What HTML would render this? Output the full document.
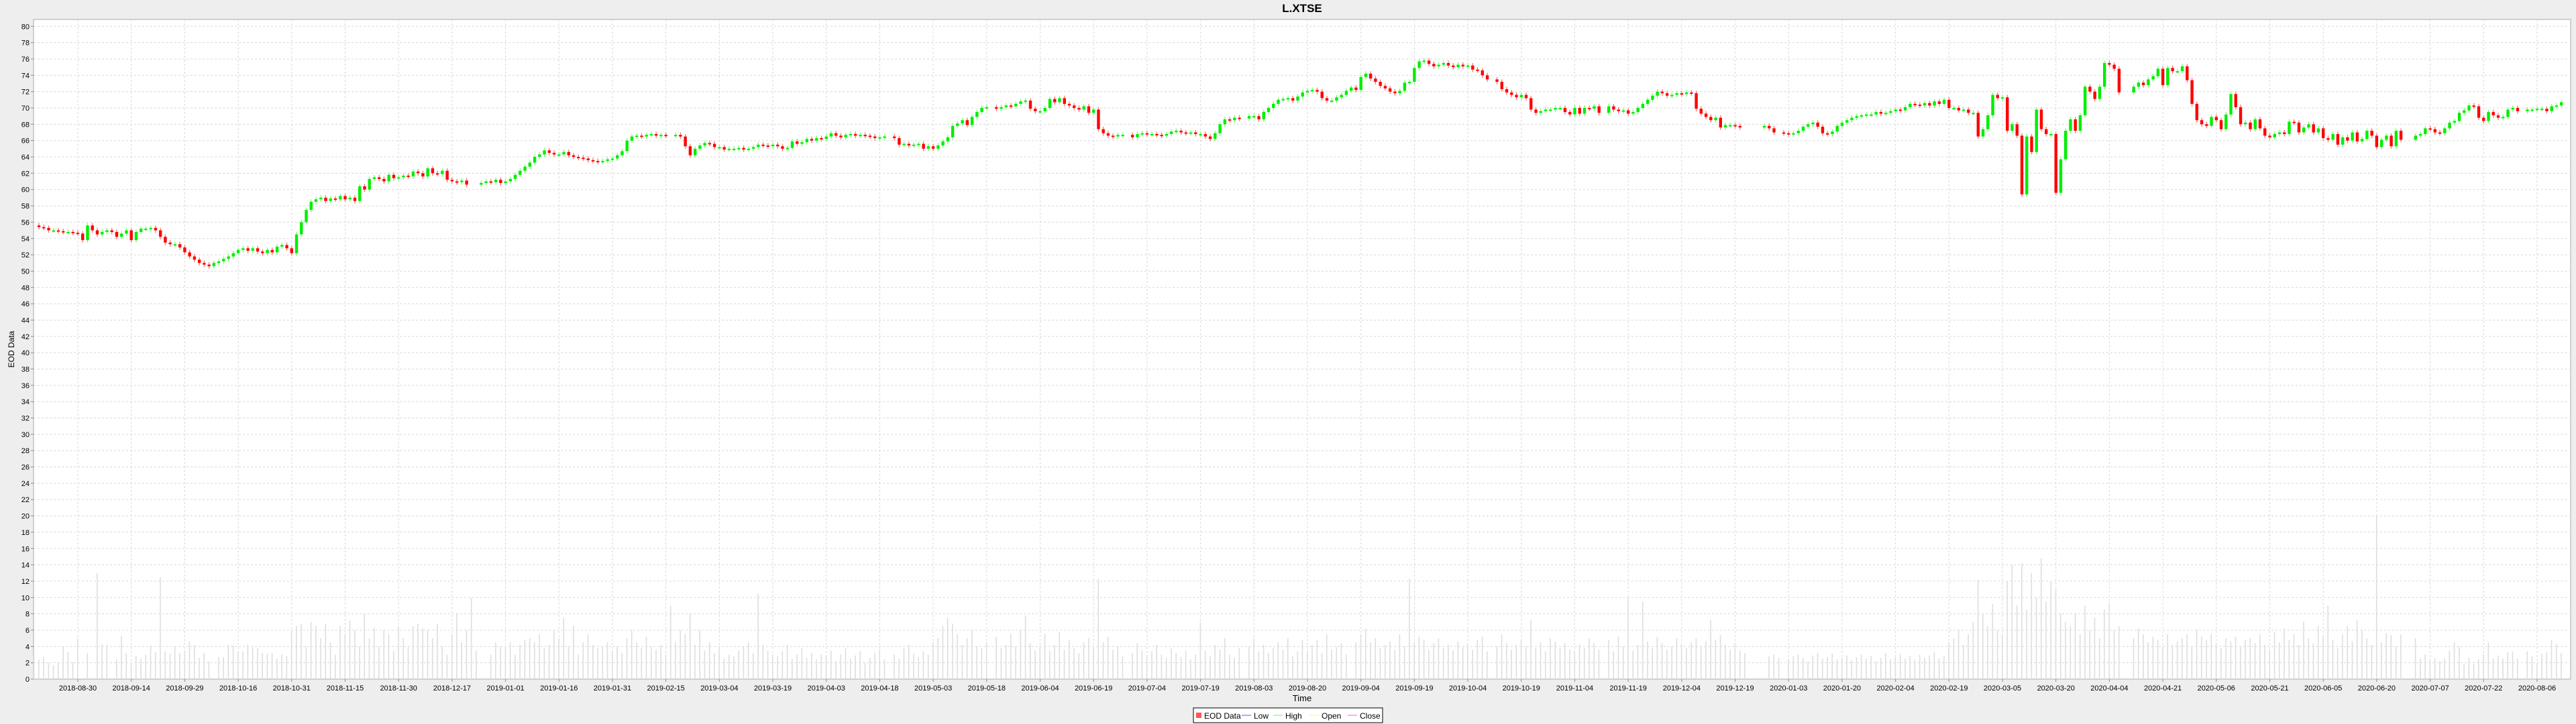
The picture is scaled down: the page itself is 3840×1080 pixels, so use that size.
<!DOCTYPE html>
<html><head><meta charset="utf-8"><title>L.XTSE</title>
<style>
html,body{margin:0;padding:0;background:#eeeeee;}
svg{display:block;font-family:"Liberation Sans",sans-serif;}
</style></head>
<body>
<svg id="chart" width="3840" height="1080" viewBox="0 0 3840 1080" xmlns="http://www.w3.org/2000/svg">
<rect x="0" y="0" width="3840" height="1080" fill="#eeeeee"/>
<text x="1941" y="18" text-anchor="middle" font-size="17" font-weight="bold" fill="#000">L.XTSE</text>
<rect x="50" y="29" width="3782" height="984" fill="#ffffff" stroke="#aaaaaa" stroke-width="1"/>
<g id="grid"></g>
<g id="volumes"></g>
<g id="candles"></g>
<g id="yaxis"></g>
<g id="xaxis"></g>
<text transform="translate(21,521) rotate(-90)" text-anchor="middle" font-size="12" fill="#000">EOD Data</text>
<text x="1941" y="1046" text-anchor="middle" font-size="13" fill="#000">Time</text>
<g>
<rect x="1779" y="1056" width="282" height="22" fill="#ffffff" stroke="#000" stroke-width="1"/>
<rect x="1783" y="1063" width="8" height="8" fill="#ff5555"/>
<text x="1795" y="1072" font-size="12" fill="#000">EOD Data</text>
<line x1="1851" y1="1067" x2="1865" y2="1067" stroke="#5555ff"/>
<text x="1869" y="1072" font-size="12" fill="#000">Low</text>
<line x1="1898" y1="1067" x2="1912" y2="1067" stroke="#55ff55"/>
<text x="1916" y="1072" font-size="12" fill="#000">High</text>
<line x1="1952" y1="1067" x2="1966" y2="1067" stroke="#ffff55"/>
<text x="1970" y="1072" font-size="12" fill="#000">Open</text>
<line x1="2009" y1="1067" x2="2023" y2="1067" stroke="#ff55ff"/>
<text x="2027" y="1072" font-size="12" fill="#000">Close</text>
</g>
</svg>
<script>
const tickLabels = ["2018-08-30","2018-09-14","2018-09-29","2018-10-16","2018-10-31","2018-11-15","2018-11-30","2018-12-17","2019-01-01","2019-01-16","2019-01-31","2019-02-15","2019-03-04","2019-03-19","2019-04-03","2019-04-18","2019-05-03","2019-05-18","2019-06-04","2019-06-19","2019-07-04","2019-07-19","2019-08-03","2019-08-20","2019-09-04","2019-09-19","2019-10-04","2019-10-19","2019-11-04","2019-11-19","2019-12-04","2019-12-19","2020-01-03","2020-01-20","2020-02-04","2020-02-19","2020-03-05","2020-03-20","2020-04-04","2020-04-21","2020-05-06","2020-05-21","2020-06-05","2020-06-20","2020-07-07","2020-07-22","2020-08-06"];
const tickDayIndex = [9,20,31,42,53,64,75,86,97,108,119,130,141,152,163,174,185,196,207,218,229,240,251,262,273,284,295,306,317,328,339,350,361,372,383,394,405,416,427,438,449,460,471,482,493,504,515];
const yTicks = [0,2,4,6,8,10,12,14,16,18,20,22,24,26,28,30,32,34,36,38,40,42,44,46,48,50,52,54,56,58,60,62,64,66,68,70,72,74,76,78,80];
const closes = [
55.6,55.4,55.3,55.0,55.0,54.9,54.8,54.8,54.7,
54.6,53.8,55.6,55.0,54.5,54.8,55.0,54.8,54.2,54.6,55.0,
53.8,54.8,55.2,55.2,55.3,55.0,54.2,53.5,53.3,53.3,52.9,
52.3,51.8,51.4,51.0,50.8,50.6,51.0,51.2,51.5,51.8,52.2,
52.6,52.8,52.5,52.8,52.4,52.2,52.6,52.3,53.0,53.2,52.8,
52.2,54.5,56.0,57.5,58.5,58.8,59.0,58.6,58.9,58.8,59.2,
58.8,59.0,58.6,60.4,60.0,61.3,61.5,61.3,61.0,61.8,61.4,
61.5,61.7,61.6,62.2,62.0,61.6,62.6,62.0,61.9,62.3,61.2,
61.0,60.9,61.1,60.6,null,null,60.8,61.0,60.9,61.2,60.8,
61.0,61.3,61.8,62.3,62.8,63.3,64.0,64.3,64.8,64.5,64.3,
64.3,64.6,64.2,64.0,63.9,63.8,63.6,63.5,63.4,63.5,63.7,
63.8,64.2,64.7,66.0,66.5,66.6,66.5,66.7,66.8,66.6,66.7,
66.6,null,66.7,66.5,65.3,64.2,65.0,65.4,65.7,65.6,65.2,
65.2,64.9,65.0,65.0,65.1,64.9,65.0,65.2,65.5,65.4,65.3,
65.5,65.3,65.0,65.1,65.9,65.6,65.8,66.2,66.0,66.3,66.2,
66.5,66.9,66.6,66.4,66.7,66.8,66.6,66.7,66.6,66.5,66.3,
66.4,66.5,null,66.3,65.5,65.6,65.4,65.5,65.6,65.0,65.3,
65.0,65.4,65.9,66.4,67.8,68.1,68.5,67.9,68.9,69.5,70.0,
70.1,null,69.9,70.1,70.3,70.2,70.5,70.8,70.9,69.9,69.6,
69.6,70.0,71.1,70.7,71.2,70.5,70.3,70.0,69.8,70.2,69.4,
69.8,67.4,66.9,66.6,66.5,66.7,66.7,null,66.4,66.8,66.9,
66.8,66.8,66.7,66.6,66.8,67.1,67.2,67.0,66.9,67.0,66.8,
66.8,66.5,66.2,66.9,68.0,68.6,68.5,68.8,68.7,null,69.0,
69.0,68.6,69.5,70.0,70.5,71.0,71.1,71.2,70.9,71.4,71.9,
72.1,72.2,72.0,71.2,70.9,70.9,71.3,71.6,72.1,72.5,72.2,
73.8,74.2,73.6,73.2,72.7,72.4,72.0,71.8,72.1,73.1,73.2,
74.9,75.7,75.8,75.4,75.1,75.3,75.5,75.2,75.0,75.3,75.1,
75.2,74.7,74.6,74.0,73.5,null,73.2,72.3,71.9,71.6,71.3,
71.6,71.2,69.8,69.4,69.6,69.8,69.8,70.0,70.0,69.5,69.2,
70.0,69.3,70.0,69.9,70.2,69.4,null,70.2,69.8,69.6,69.7,
69.3,69.5,70.0,70.5,71.0,71.5,72.0,71.8,71.5,71.6,71.8,
71.7,71.9,71.8,69.9,69.3,68.9,68.5,68.8,67.6,67.9,67.9,
67.8,67.6,null,null,null,null,67.8,67.5,67.0,null,66.9,
66.8,66.9,67.2,67.7,68.0,68.2,67.7,66.9,66.8,67.1,67.8,
68.2,68.5,68.8,69.0,69.1,69.2,69.2,69.5,69.3,69.4,69.6,
69.8,69.7,70.1,70.5,70.4,70.3,70.6,70.3,70.8,70.5,71.0,
70.0,70.0,69.7,69.8,69.4,69.4,66.5,67.4,69.1,71.6,71.2,71.3,
67.2,68.0,66.6,59.4,66.5,64.6,69.8,67.4,66.8,66.8,59.6,63.7,
67.2,68.6,67.2,69.1,72.6,72.0,71.1,72.6,75.5,75.3,74.8,71.9,
null,null,
72.6,73.1,72.8,73.5,73.9,74.8,72.8,74.9,74.5,
74.5,75.1,73.4,70.5,68.5,68.0,67.8,68.9,68.5,67.4,69.2,71.7,70.1,68.0,68.2,67.4,
68.6,67.5,66.6,66.4,66.8,67.0,66.8,68.3,68.2,67.0,67.6,68.0,67.0,67.5,66.3,66.1,66.8,65.5,66.4,66.0,67.0,65.9,66.2,67.2,66.6,65.2,66.1,66.6,65.3,67.2,66.1,
null,null,
66.6,66.8,67.5,67.4,67.0,66.9,67.5,68.2,68.4,69.4,69.7,70.3,70.2,68.8,68.4,69.5,69.1,68.8,68.9,69.8,70.0,69.6,
null,
69.8,69.8,69.9,69.9,69.6,70.2,70.3,70.7
];
const volumes = [
3,2.4,2.7,2,1.7,2,4,3.3,2.1,
5,0,3.2,0,13,4.3,4.2,0,2.4,5.3,3.2,
1.7,2.9,2.5,3,4.1,3.3,12.5,3.4,3.1,4,3.2,
3.5,4.6,4.2,2.6,3.2,2.2,0,2.7,2.7,4.2,4.1,
3.3,3.4,4.2,3.9,3.8,3.2,3.1,3.2,2.5,3,2.8,
6,6.5,6.8,4,7,6.5,5,6.8,4.5,3,6.5,
5.5,7.2,6,4,8,5,6.3,4,6,5.5,3.5,
6.5,5,4,6.5,6.8,6.2,6,5,6.8,4,3,
5.5,8,4.5,6,10,3.5,0,0,3,4.5,4,
3.8,4.5,3,4.2,4.8,5,4.5,5.5,3.8,4.2,6,
5,7.5,4,6.5,3,4.5,5.5,4.2,3.8,4,4.5,
3.5,4,3.2,5,6,4.5,3.8,5.2,4,3.6,4.2,
3,9,4.5,6,5.5,8,4.2,6,3.5,4.5,3.2,
3.8,2.5,3,2.8,3.5,4,4.5,3.2,10.5,4.2,3.5,
3,2.8,3.4,4.2,2.5,3,3.8,2.6,3.2,2.4,3,
2.8,3.5,2.2,3,3.8,2.5,2.9,3.4,2,2.6,3.2,
3.6,2.4,0,3,2.5,3.8,4.2,3.1,2.7,3.4,3,
4.5,5,6.5,7.5,6.8,5.5,4.2,5,6,4,3.8,
4.5,0,5.2,3.8,4.2,5.5,4,6,7.8,4.4,3.5,
4,5.5,3.5,4.2,5.8,3.6,4.8,3.8,3.2,4.5,5,
3.8,12.3,4.5,5.2,3.6,4,2.8,0,3.2,4.4,3.5,
2.8,3.4,4.2,3,2.6,3.8,3.2,2.7,3.5,2.4,3,
7,3.5,2.8,4.2,3.6,5,3,2.6,3.8,0,4,
5,3.4,4.2,3.2,3.8,4.5,3.6,5,2.8,3.4,4.8,
3.5,4.2,4.8,3.2,5.5,3.6,3.9,4.4,3,0,4.5,
5.5,6.2,4.5,5,3.8,4.2,4.6,3.6,5.5,4,12.3,
4.5,5.2,4.8,3.6,4.4,5,3.8,4.2,3.5,4.6,3.9,
4.2,3.6,4.8,5.2,3.4,0,4,5.5,4.4,3.6,4.2,
4.8,4,7.2,3.8,4.5,3.4,5,4.6,3.8,4.4,3.6,
3.5,4.2,3.8,5,4.4,3.6,0,4.8,3.4,5.2,4,
10,3.5,4.2,9.5,4.6,3.8,5.2,4.4,3.6,4,5,
4.2,3.8,4.5,5,4,4.6,7.2,4.8,5.4,4.2,3.6,
4.4,3.5,3.2,0,0,0,0,2.8,3,2.6,0,
2.4,2.8,3,2.6,2.2,2.9,3.2,2.5,2.7,3.1,2.4,
2.6,2.9,2.3,2.7,3,2.5,2.8,2.2,2.6,3.2,2.4,
2.7,3.1,2.5,2.8,2.4,3,2.6,2.9,3.3,2.5,2.8,
4.5,5,6,4.2,5.5,7,12.2,8,6.5,9.2,6,5.5,
12,14,9,14.2,8.5,13,10,14.8,9.5,12,11,8,
7,6.5,8,5.5,9,6,7.5,5,8.5,9.2,6,6.5,
0,0,
5,6.2,5.5,4.5,5.2,4.8,4,5.5,4.2,
4.6,5,5.5,4,6,5.2,4.8,5.5,4.4,3.8,5,4.6,5.2,4,4.8,5,
4.4,5.5,4.2,3.6,5.8,4.5,6.2,4.8,5.5,4.2,7,5,4.4,6.5,5.2,9,4.8,3.8,5.5,6.5,4.6,7.2,6,5,4.2,20,4.5,5.6,5.4,4,5.5,
0,0,
5,2.5,3,2.4,2.6,2.2,2.5,3.5,4.5,4,1.9,2.6,1.8,2.4,3.1,4.5,2.5,2.9,2.5,3.3,3.4,2.5,
0,
3.4,2.8,2,3.1,3.3,4.8,4.3,3.2
];

const NS = "http://www.w3.org/2000/svg";
const PL = 50, PR = 3832, PT = 29, PB = 1013;
const YMAX = 80.8;
function yScale(v){ return PB - v * (PB - 39.3) / 80; }
function xScale(i){ return 116 + (i - 9) * 7.245; }
function mk(tag, attrs, parent){
  const e = document.createElementNS(NS, tag);
  for (const k in attrs) e.setAttribute(k, attrs[k]);
  parent.appendChild(e);
  return e;
}
const grid = document.getElementById('grid');
const yaxis = document.getElementById('yaxis');
const xaxis = document.getElementById('xaxis');
yTicks.forEach(function(t){
  const y = yScale(t);
  if (t > 0) {
    const g = mk('line', {x1:PL, x2:PR, y1:y, y2:y, stroke:'#d8d8d8', 'stroke-width':1, 'stroke-dasharray':'3,3'}, grid);
    
    
  }
  const tk = mk('line', {x1:PL-4, x2:PL, y1:y, y2:y, stroke:'#888'}, yaxis);
  
  
  const lb = mk('text', {x:PL-6, y:y+4, 'text-anchor':'end', 'font-size':11, fill:'#000'}, yaxis);
  lb.textContent = String(t);
  
  
});
tickLabels.forEach(function(lab, k){
  const x = xScale(tickDayIndex[k]);
  const g = mk('line', {x1:x, x2:x, y1:PT, y2:PB, stroke:'#d8d8d8', 'stroke-width':1, 'stroke-dasharray':'3,3'}, grid);
  
  
  const tk = mk('line', {x1:x, x2:x, y1:PB, y2:PB+4, stroke:'#888'}, xaxis);
  
  
  const lb = mk('text', {x:x, y:PB+17, 'text-anchor':'middle', 'font-size':11, fill:'#000'}, xaxis);
  lb.textContent = lab;
  
  
});
const vg = document.getElementById('volumes');
volumes.forEach(function(v, i){
  if (!v) return;
  const x = xScale(i);
  if (x < PL || x > PR) return;
  const r = mk('rect', {x:x-1, y:yScale(v), width:1.6, height:PB - yScale(v), fill:'#dedede'}, vg);
  
  
});
const cg = document.getElementById('candles');
let prev = null;
closes.forEach(function(c, i){
  if (c === null) return;
  const o = prev === null ? c : prev;
  prev = c;
  const x = xScale(i);
  if (x < PL + 2 || x > PR - 2) return;
  const up = c >= o;
  const col = up ? '#00ee00' : '#ff0000';
  const hi = Math.max(o, c) + 0.3, lo = Math.min(o, c) - 0.3;
  const w = mk('line', {x1:x, x2:x, y1:yScale(hi), y2:yScale(lo), stroke: up ? '#66ff66' : '#ff6666', 'stroke-width':1.2}, cg);
  
  
  const top = yScale(Math.max(o, c)), bot = yScale(Math.min(o, c));
  const b = mk('rect', {x:x-2.2, y:top, width:4.4, height:Math.max(2, bot-top), fill:col}, cg);
  
  
});
</script>
</body></html>
